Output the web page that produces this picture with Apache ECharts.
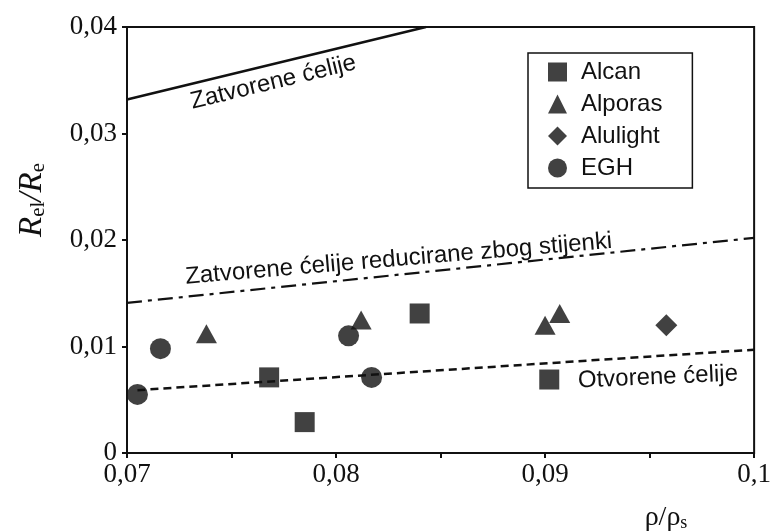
<!DOCTYPE html>
<html>
<head>
<meta charset="utf-8">
<script src="https://cdn.jsdelivr.net/npm/echarts@6/dist/echarts.min.js"></script>
<style>
  html, body { margin: 0; padding: 0; background: #fff; }
  #chart { width: 774px; height: 531px; }
</style>
</head>
<body>
<div id="chart"></div>
<script>
// ---- data ----
const xTickValues = [0.07, 0.08, 0.09, 0.1];
const xTickLabels = ['0,07', '0,08', '0,09', '0,1'];
const yTickValues = [0, 0.01, 0.02, 0.03, 0.04];
const yTickLabels = ['0', '0,01', '0,02', '0,03', '0,04'];

const alcan    = [[0.0768, 0.0071], [0.0785, 0.0029], [0.0840, 0.0131], [0.0902, 0.0069]];
const alporas  = [[0.0738, 0.0112], [0.0812, 0.0125], [0.0900, 0.0120], [0.0907, 0.0131]];
const alulight = [[0.0958, 0.0120]];
const egh      = [[0.0705, 0.0055], [0.0716, 0.0098], [0.0806, 0.0110], [0.0817, 0.0071]];

const closedCells  = [[0.07, 0.0332], [0.0843, 0.04]];
const reducedCells = [[0.07, 0.0141], [0.10, 0.0202]];
const openCells    = [[0.0705, 0.0059], [0.10, 0.0097]];

const seriesNames = ['Alcan', 'Alporas', 'Alulight', 'EGH'];
const lineLabels = ['Zatvorene ćelije', 'Zatvorene ćelije reducirane zbog stijenki', 'Otvorene ćelije'];

// ---- chart ----
const ink = '#111';
const chart = echarts.init(document.getElementById('chart'), null, { renderer: 'canvas' });

function fmt(values, labels) {
  return function (v) {
    for (let i = 0; i < values.length; i++) {
      if (Math.abs(values[i] - v) < 1e-9) return labels[i];
    }
    return '';
  };
}

const option = {
  animation: false,
  backgroundColor: '#fff',
  grid: { left: 127, right: 19, top: 27, bottom: 78, show: true, borderColor: ink, borderWidth: 2, backgroundColor: 'transparent' },
  xAxis: {
    type: 'value', min: 0.07, max: 0.1, interval: 0.01,
    axisLine: { lineStyle: { color: ink, width: 2 } },
    axisTick: { show: true, length: 5, lineStyle: { color: ink, width: 2 } },
    minorTick: { show: true, splitNumber: 2, length: 5, lineStyle: { color: ink, width: 2 } },
    splitLine: { show: false },
    axisLabel: { formatter: fmt(xTickValues, xTickLabels), color: ink, fontFamily: 'Liberation Serif', fontSize: 27, margin: 8 }
  },
  yAxis: {
    type: 'value', min: 0, max: 0.04, interval: 0.01,
    axisLine: { show: true, lineStyle: { color: ink, width: 2 } },
    axisTick: { show: true, length: 5, lineStyle: { color: ink, width: 2 } },
    splitLine: { show: false },
    axisLabel: { formatter: fmt(yTickValues, yTickLabels), color: ink, fontFamily: 'Liberation Serif', fontSize: 27, margin: 10 }
  },
  legend: {
    data: seriesNames,
    orient: 'vertical', left: 528, top: 53,
    borderColor: ink, borderWidth: 1.5,
    padding: [7, 30, 8, 20],
    itemWidth: 19, itemHeight: 19, itemGap: 8,
    textStyle: { fontFamily: 'Liberation Sans', fontSize: 24, color: ink, padding: [0, 0, 0, 9] }
  },
  series: [
    { type: 'line', data: closedCells, showSymbol: false, silent: true, lineStyle: { color: ink, width: 2.5 }, z: 1 },
    { type: 'line', data: reducedCells, showSymbol: false, silent: true, lineStyle: { color: ink, width: 2.2, type: [15, 6, 4, 6] }, z: 1 },
    { type: 'line', data: openCells, showSymbol: false, silent: true, lineStyle: { color: ink, width: 2.5, type: [8, 5] }, z: 1 },
    { name: seriesNames[0], type: 'scatter', symbol: 'rect', symbolSize: 20, data: alcan, itemStyle: { color: ink }, z: 3 },
    { name: seriesNames[1], type: 'scatter', symbol: 'triangle', symbolSize: [21, 19], data: alporas, itemStyle: { color: ink }, z: 3 },
    { name: seriesNames[2], type: 'scatter', symbol: 'diamond', symbolSize: 22, data: alulight, itemStyle: { color: ink }, z: 3 },
    { name: seriesNames[3], type: 'scatter', symbol: 'circle', symbolSize: 21, data: egh, itemStyle: { color: ink }, z: 3 }
  ]
};
chart.setOption(option);

// annotation anchors (data coordinates) and rotations
const annot = [
  { text: lineLabels[0], at: [0.0770, 0.0348], rot: 13.6 },
  { text: lineLabels[1], at: [0.0830, 0.0182], rot: 4.8 },
  { text: lineLabels[2], at: [0.0954, 0.0071], rot: 2.5 }
];
const graphics = annot.map(function (a) {
  const p = chart.convertToPixel({ gridIndex: 0 }, a.at);
  return {
    type: 'text', x: p[0], y: p[1], rotation: a.rot * Math.PI / 180, z: 10,
    style: { text: a.text, fill: ink, font: '24px "Liberation Sans"', align: 'center', verticalAlign: 'middle' }
  };
});
graphics.push({
  type: 'text', x: 31, y: 200, rotation: Math.PI / 2, z: 10,
  style: {
    text: '{i|R}{s|el}{i|/R}{s|e}', align: 'center', verticalAlign: 'middle', fill: ink,
    rich: {
      i: { fontFamily: 'Liberation Serif', fontStyle: 'italic', fontSize: 33, fill: ink, verticalAlign: 'bottom', lineHeight: 36 },
      s: { fontFamily: 'Liberation Serif', fontSize: 21, fill: ink, verticalAlign: 'bottom', lineHeight: 26 }
    }
  }
});
graphics.push({
  type: 'text', x: 666, y: 517, z: 10,
  style: {
    text: '{n|ρ/ρ}{s|s}', align: 'center', verticalAlign: 'middle', fill: ink,
    rich: {
      n: { fontFamily: 'Liberation Serif', fontSize: 28, fill: ink, verticalAlign: 'bottom', lineHeight: 30 },
      s: { fontFamily: 'Liberation Serif', fontSize: 18, fill: ink, verticalAlign: 'bottom', lineHeight: 22 }
    }
  }
});
chart.setOption({ graphic: graphics });
</script>
</body>
</html>
